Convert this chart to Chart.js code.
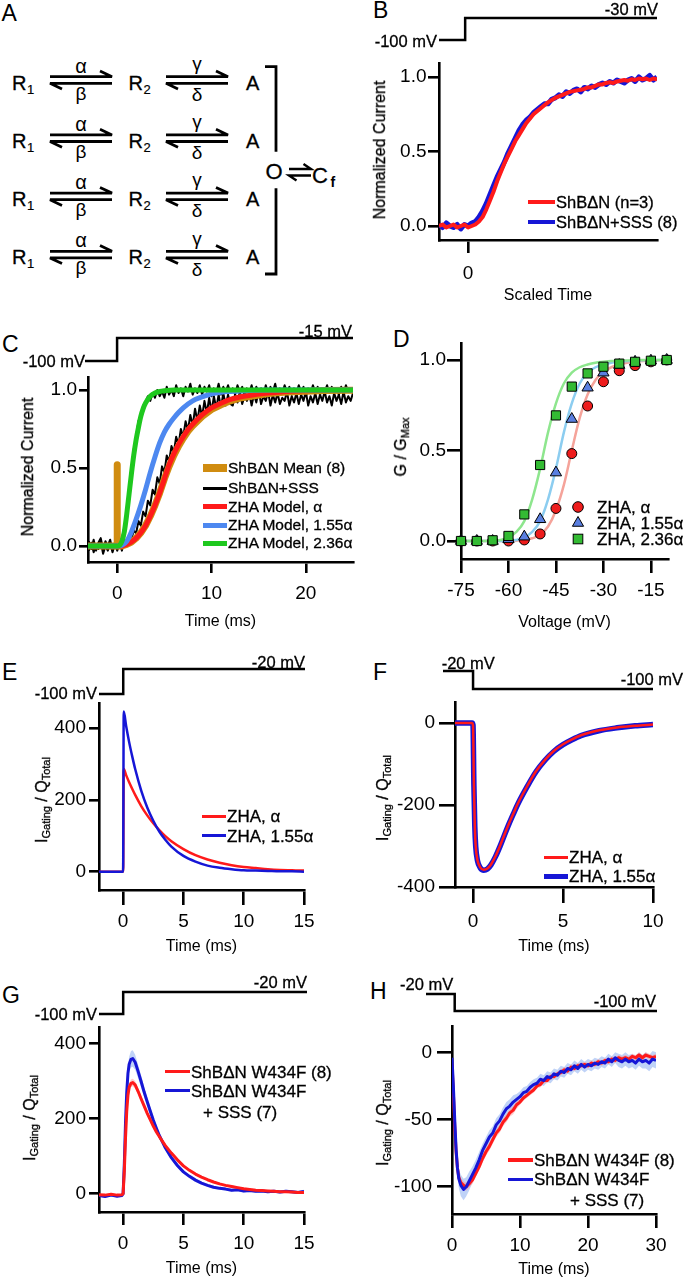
<!DOCTYPE html>
<html><head><meta charset="utf-8">
<script src="https://cdn.jsdelivr.net/npm/chart.js@4.4.0/dist/chart.umd.min.js"></script>
<style>
html,body{margin:0;padding:0;background:#fff;}
body{width:685px;height:1280px;position:relative;overflow:hidden;font-family:"Liberation Sans",Arial,Helvetica,sans-serif;color:#000;}
.t{position:absolute;white-space:nowrap;line-height:1;-webkit-text-stroke:0.3px #000;}
.yt{position:absolute;white-space:nowrap;line-height:1;font-size:16px;transform:translate(-50%,-50%) rotate(-90deg);-webkit-text-stroke:0.3px #000;}
.yt sub{font-size:11px;vertical-align:-3px;line-height:0;}
canvas{position:absolute;}
</style></head><body>
<script>
// ---------------- DATA ----------------
// Panel B
const bTime = [-1,-0.875,-0.75,-0.625,-0.5,-0.375,-0.25,-0.125,0,0.125,0.25,0.375,0.5,0.625,0.75,0.875,1,1.125,1.25,1.375,1.5,1.625,1.75,1.875,2,2.125,2.25,2.375,2.5,2.625,2.75,2.875,3,3.125,3.25,3.375,3.5,3.625,3.75,3.875,4,4.125,4.25,4.375,4.5,4.625,4.75,4.875,5,5.125,5.25,5.375,5.5,5.625,5.75,5.875,6,6.125,6.25,6.375,6.5];
const bRed = [0,0.01,-0.01,0,0.01,-0.01,0,0.01,-0.01,0,0.01,0.03,0.06,0.11,0.17,0.23,0.30,0.36,0.42,0.47,0.52,0.57,0.61,0.65,0.69,0.72,0.75,0.77,0.79,0.81,0.83,0.845,0.86,0.87,0.88,0.89,0.90,0.905,0.91,0.915,0.92,0.93,0.93,0.94,0.95,0.95,0.96,0.965,0.96,0.97,0.975,0.98,0.975,0.985,0.98,0.99,0.985,0.99,0.98,0.99,0.985];
const bBlue = [0.01,-0.01,0.02,0,-0.01,0.01,-0.02,0.01,0,0.02,0.03,0.06,0.10,0.15,0.21,0.27,0.33,0.38,0.43,0.49,0.54,0.59,0.64,0.68,0.71,0.73,0.76,0.78,0.80,0.82,0.82,0.85,0.86,0.88,0.87,0.90,0.89,0.91,0.92,0.90,0.93,0.92,0.94,0.93,0.95,0.96,0.95,0.97,0.96,0.98,0.97,0.96,0.98,0.99,0.97,1.00,0.98,0.99,1.01,0.98,1.00];
const bLabels = ['ShBΔN (n=3)','ShBΔN+SSS (8)'];
const bXTicks = [0], bXTickLabels = ['0'];
const bYTicks = [0,0.5,1], bYTickLabels = ['0.0','0.5','1.0'];
const bProtoT = [-1,-0.1,6.5], bProtoV = [-100,-30,-30];

// Panel C
const cTime = [-3,-2.75,-2.5,-2.25,-2,-1.75,-1.5,-1.25,-1,-0.75,-0.5,-0.25,0,0.25,0.5,0.75,1,1.25,1.5,1.75,2,2.25,2.5,2.75,3,3.25,3.5,3.75,4,4.25,4.5,4.75,5,5.25,5.5,5.75,6,6.25,6.5,6.75,7,7.25,7.5,7.75,8,8.25,8.5,8.75,9,9.25,9.5,9.75,10,10.25,10.5,10.75,11,11.25,11.5,11.75,12,12.25,12.5,12.75,13,13.25,13.5,13.75,14,14.25,14.5,14.75,15,15.25,15.5,15.75,16,16.25,16.5,16.75,17,17.25,17.5,17.75,18,18.25,18.5,18.75,19,19.25,19.5,19.75,20,20.25,20.5,20.75,21,21.25,21.5,21.75,22,22.25,22.5,22.75,23,23.25,23.5,23.75,24,24.25,24.5,24.75,25];
const cBlackFast = [0.03,-0.02,0.04,-0.03,0.02,0.05,-0.02,0.03,0.00,0.04,-0.03,0.02,-0.02,
 0.03,0.05,0.12,0.22,0.36,0.47,0.62,0.70,0.80,0.84,0.90,0.92,0.96,0.93,0.98,0.95,1.00,0.96,0.99,0.95,
 1.02,0.97,1.00,0.96,1.03,0.98,1.01,0.96,1.02,0.99,1.04,0.97,1.01,0.98,1.03,0.97,1.02,0.99,1.03,0.96,
 1.01,0.98,1.04,0.97,1.02,0.99,1.03,0.98,1.01,0.97,1.03,0.99,1.02,0.96,1.01,0.98,1.03,0.97,1.02,0.99,
 1.01,0.96,1.03,0.98,1.02,0.99,1.04,0.97,1.01,0.98,1.03,0.99,1.02,0.97,1.01,0.98,1.03,0.99,1.02,0.96,
 1.01,0.98,1.03,0.99,1.02,0.97,1.01,0.99,1.03,0.98,1.02,0.99,1.01,0.97,1.02,0.98,1.03,0.99,1.01,0.98];
const cBlackSlow = [-0.03,0.02,-0.04,0.01,-0.02,0.03,-0.05,0.00,-0.03,0.02,-0.04,0.01,-0.03,
 0.02,-0.03,0.04,0.01,0.06,0.04,0.10,0.08,0.16,0.13,0.22,0.19,0.29,0.26,0.36,0.33,0.44,0.40,0.51,0.47,0.58,0.54,0.64,0.60,0.70,0.65,0.75,0.70,0.80,0.74,0.84,0.77,0.88,0.80,0.90,0.83,0.93,0.85,0.95,0.86,0.96,0.88,0.97,0.89,0.98,0.90,0.97,0.91,
 0.90,0.97,0.92,0.99,0.91,0.96,0.93,0.98,0.90,0.97,0.92,1.00,0.91,0.96,0.93,0.99,0.90,0.97,0.92,0.98,0.91,0.95,0.93,0.99,0.90,0.96,0.92,0.98,0.91,0.97,0.93,0.99,0.90,0.96,0.92,0.98,0.91,0.97,0.93,0.99,0.92,0.96,0.90,0.98,0.93,0.97,0.91,0.99,0.92,0.96,0.93,0.98];
const cOrangeT = [-3.1,0,0,0,0.5,1,1.5,2,2.5,3,3.5,4,4.5,5,5.5,6,6.5,7,7.5,8,9,10,11,12,13,14,16,18,20,22,25];
const cOrange = [0,0,0.52,0,0,0.01,0.025,0.05,0.085,0.13,0.19,0.26,0.34,0.43,0.51,0.58,0.64,0.69,0.735,0.77,0.83,0.875,0.905,0.93,0.948,0.958,0.977,0.987,0.992,0.996,0.998];
const cRedT = [-3.1,0,0.5,1,1.5,2,2.5,3,3.5,4,4.5,5,5.5,6,6.5,7,7.5,8,9,10,11,12,13,14,16,18,20,22,25];
const cRed = [0,0,0,0.01,0.025,0.05,0.085,0.13,0.19,0.26,0.34,0.43,0.52,0.59,0.65,0.70,0.745,0.78,0.84,0.885,0.915,0.94,0.955,0.965,0.98,0.99,0.995,0.998,1];
const cBlueT = [-3.1,0,0.5,1,1.5,2,2.5,3,3.5,4,4.5,5,5.5,6,6.5,7,8,9,10,11,12,14,16,25];
const cBlue = [0,0,0.005,0.03,0.09,0.17,0.26,0.36,0.47,0.57,0.66,0.73,0.78,0.82,0.855,0.885,0.93,0.955,0.975,0.985,0.99,0.997,1,1];
const cGreenT = [-3.1,0,0.25,0.5,0.75,1,1.25,1.5,1.75,2,2.25,2.5,2.75,3,3.5,4,4.5,5,6,8,12,25];
const cGreen = [0,0,0.005,0.03,0.09,0.2,0.33,0.46,0.58,0.68,0.76,0.83,0.88,0.915,0.96,0.98,0.99,0.995,1,1,1,1];
const cLabels = ['ShBΔN Mean (8)','ShBΔN+SSS','ZHA Model, α','ZHA Model, 1.55α','ZHA Model, 2.36α'];
const cXTicks = [0,10,20], cXTickLabels = ['0','10','20'];
const cYTicks = [0,0.5,1], cYTickLabels = ['0.0','0.5','1.0'];
const cProtoT = [-3.4,0,25], cProtoV = [-100,-15,-15];

// Panel D
const dVolt = [-75,-70,-65,-60,-55,-50,-45,-40,-35,-30,-25,-20,-15,-10];
const dAlpha = [0,0,0,0,0.006,0.039,0.18,0.483,0.746,0.88,0.941,0.969,0.99,1.0];
const dA155 = [0,0,0,0.01,0.024,0.12,0.378,0.674,0.847,0.93,0.972,0.99,0.996,1.0];
const dA236 = [0,0,0.004,0.028,0.147,0.42,0.694,0.853,0.926,0.963,0.98,0.99,0.996,1.0];
const dFitV = [-75,-70,-65,-62.5,-60,-57.5,-55,-52.5,-50,-47.5,-45,-42.5,-40,-37.5,-35,-32.5,-30,-27.5,-25,-22.5,-20,-17.5,-15,-12.5,-10];
const dFitAlpha = [0,0,0,0,0,0.002,0.006,0.015,0.035,0.08,0.17,0.31,0.50,0.68,0.81,0.89,0.935,0.96,0.975,0.985,0.99,0.994,0.997,0.999,1];
const dFitA155 = [0,0,0,0,0.002,0.006,0.02,0.05,0.11,0.23,0.40,0.60,0.76,0.87,0.93,0.96,0.975,0.985,0.99,0.994,0.996,0.998,0.999,1,1];
const dFitA236 = [0,0,0.001,0.006,0.02,0.05,0.11,0.23,0.40,0.60,0.76,0.87,0.93,0.96,0.975,0.985,0.99,0.994,0.996,0.998,0.999,1,1,1,1];
const dLabels = ['ZHA, α','ZHA, 1.55α','ZHA, 2.36α'];
const dXTicks = [-75,-60,-45,-30,-15], dXTickLabels = ['-75','-60','-45','-30','-15'];
const dYTicks = [0,0.5,1], dYTickLabels = ['0.0','0.5','1.0'];

// Panel E
const eTime = [-2,0,0.05,0.25,0.5,0.75,1,1.5,2,2.5,3,3.5,4,5,6,7,8,9,10,11,12,13,14,15];
const eAlpha = [0,0,286,269,249,231,214,183,157,135,116,99,85,63,46,34,25,18,13,10,7,5,4,3];
const eA155 = [0,0,446,406,361,322,286,226,179,142,112,89,70,44,28,17,11,7,4,3,2,1,1,0];
const eLabels = ['ZHA, α','ZHA, 1.55α'];
const eXTicks = [0,5,10,15], eXTickLabels = ['0','5','10','15'];
const eYTicks = [0,200,400], eYTickLabels = ['0','200','400'];
const eProtoT = [-2,0,15], eProtoV = [-100,-20,-20];

// Panel F
const fTime = [-1,-0.05,0,0.05,0.1,0.15,0.25,0.4,0.6,0.8,1.0,1.25,1.5,1.75,2,2.25,2.5,3,3.5,4,4.5,5,5.5,6,7,8,9,10];
const fAlpha = [0,0,-5,-150,-250,-300,-335,-352,-358,-355,-345,-325,-300,-272,-245,-220,-196,-155,-118,-90,-68,-52,-40,-30,-18,-11,-7,-4];
const fA155 = [0,0,-5,-152,-252,-301,-336,-353,-359,-356,-346,-326,-301,-273,-246,-221,-197,-156,-119,-91,-69,-53,-41,-31,-19,-12,-7,-4];
const fLabels = ['ZHA, α','ZHA, 1.55α'];
const fXTicks = [0,5,10], fXTickLabels = ['0','5','10'];
const fYTicks = [-400,-200,0], fYTickLabels = ['-400','-200','0'];
const fProtoT = [-1.67,0,10], fProtoV = [-20,-100,-100];

// Panel G
const gTime = [-2,-1.5,-1,-0.5,-0.1,0,0.1,0.2,0.3,0.4,0.5,0.65,0.8,1,1.25,1.5,1.75,2,2.25,2.5,2.75,3,3.5,4,4.5,5,5.5,6,6.5,7,7.5,8,8.5,9,9.5,10,10.5,11,11.5,12,12.5,13,13.5,14,14.5,15];
const gWT = [-3,-4,-2,-4,-3,0,60,150,220,262,283,294,296,290,272,252,233,214,197,180,165,152,128,108,90,74,62,52,44,37,31,26,22,19,16,13,11,9,8,7,6,5,5,4,3,3];
const gSSS = [-5,-8,-4,-7,-5,0,80,190,270,320,345,358,360,350,325,298,270,245,220,196,175,155,122,96,75,58,46,36,28,22,17,14,12,9,10,7,8,6,7,5,6,4,6,5,3,6];
const gWTSem = [2,2,2,2,2,2,5,7,8,9,10,10,10,10,9,9,8,8,7,7,6,6,5,5,4,4,4,3,3,3,3,3,3,3,3,3,3,3,3,3,3,3,3,3,3,3];
const gSSSSem = [3,3,3,3,3,3,8,12,15,18,20,22,22,20,18,16,14,12,11,10,9,8,7,6,6,5,5,5,4,4,4,4,4,4,4,4,4,4,4,4,4,4,4,4,4,4];
const ghLabels = ['ShBΔN W434F (8)','ShBΔN W434F','+ SSS (7)'];
const gXTicks = [0,5,10,15], gXTickLabels = ['0','5','10','15'];
const gYTicks = [0,200,400], gYTickLabels = ['0','200','400'];
const gProtoT = [-2,0,15.2], gProtoV = [-100,-20,-20];

// Panel H
const hTime = [0,0.2,0.4,0.6,0.8,1.0,1.3,1.7,2.1,2.5,3.0,3.5,4,4.5,5,5.5,6,6.5,7,7.5,8,8.5,9,9.5,10,10.5,11,11.5,12,12.5,13,13.5,14,14.5,15,15.5,16,16.5,17,17.5,18,18.5,19,19.5,20,20.5,21,21.5,22,22.5,23,23.5,24,24.5,25,25.5,26,26.5,27,27.5,28,28.5,29,29.5,30];
const hWT = [-8,-30,-55,-74,-86,-93,-97,-99,-100,-98,-95,-90,-85,-79,-74,-70,-65,-60,-57,-52,-49,-45,-43,-39,-37,-34,-32,-30,-28,-25,-24,-21,-21,-18,-18,-16,-15,-13,-14,-11,-12,-10,-10,-9,-10,-8,-9,-7,-8,-6,-7,-5,-6,-4,-5,-4,-5,-3,-4,-2,-4,-2,-3,-4,-3];
const hSSS = [-4,-25,-50,-72,-86,-94,-99,-102,-100,-96,-91,-86,-80,-73,-68,-63,-60,-54,-51,-46,-42,-40,-37,-35,-33,-30,-29,-26,-24,-23,-20,-21,-18,-19,-16,-17,-14,-15,-12,-13,-10,-12,-9,-11,-9,-10,-8,-9,-7,-8,-5,-7,-4,-6,-7,-5,-7,-6,-8,-5,-7,-6,-8,-5,-6];
const hWTSem = [1,2,3,3,3,3,3,3,3,3,3,3,3,3,3,3,3,3,3,3,3,3,3,3,2,2,2,2,2,2,2,2,2,2,2,2,2,2,2,2,2,2,2,2,2,2,2,2,2,2,2,2,2,2,2,2,2,2,2,2,2,2,2,2,2];
const hSSSSem = [1,3,5,6,7,7,8,8,7,7,6,6,6,5,5,5,5,5,5,5,5,5,5,4,4,4,4,4,4,4,4,4,4,4,4,4,4,4,4,4,4,4,4,4,4,4,4,4,4,4,4,4,4,5,5,5,5,5,5,5,5,6,6,6,6];
const hXTicks = [0,10,20,30], hXTickLabels = ['0','10','20','30'];
const hYTicks = [-100,-50,0], hYTickLabels = ['-100','-50','0'];
const hProtoT = [-3.8,0.4,30], hProtoV = [-20,-100,-100];

// ---------------- STYLE / HELPERS ----------------
const FONT = '"Liberation Sans", Arial, Helvetica, sans-serif';
const RED = '#ff1a1a', BLUE = '#1616d6';
const TICK_SIZE = 19;
Chart.defaults.font.family = FONT;

function pts(xs, ys) { return xs.map((x, i) => ({x: x, y: ys[i]})); }
function addCanvas(l, t, w, h) {
  const c = document.createElement('canvas');
  c.width = Math.round(w); c.height = Math.round(h);
  c.style.left = Math.round(l) + 'px'; c.style.top = Math.round(t) + 'px';
  c.style.width = Math.round(w) + 'px'; c.style.height = Math.round(h) + 'px';
  document.body.appendChild(c);
  return c;
}
function txt(s, x, y, size, align) {
  const d = document.createElement('div');
  d.className = 't';
  d.innerHTML = s;
  d.style.left = x + 'px'; d.style.top = y + 'px'; d.style.fontSize = size + 'px';
  d.style.transform = align === 'right' ? 'translate(-100%,-50%)' : (align === 'center' ? 'translate(-50%,-50%)' : 'translateY(-50%)');
  document.body.appendChild(d);
  return d;
}
function ytitle(s, cx, cy) {
  const d = document.createElement('div');
  d.className = 'yt'; d.innerHTML = s;
  d.style.left = cx + 'px'; d.style.top = cy + 'px';
  document.body.appendChild(d);
}
function axis(dir, a, size) {
  return {
    type: 'linear', position: dir === 'x' ? 'bottom' : 'left', min: a.min, max: a.max,
    afterFit: s => { if (dir === 'x') s.height = size; else s.width = size; },
    afterBuildTicks: s => { s.ticks = a.ticks.map(v => ({value: v})); },
    ticks: {autoSkip: false, maxRotation: 0, minRotation: 0, padding: a.pad, color: '#000',
            font: {family: FONT, size: TICK_SIZE}, callback: (v, i) => a.labels[i]},
    grid: {display: true, drawOnChartArea: false, drawTicks: true, tickLength: a.tl, color: '#000', lineWidth: 2.6},
    border: {display: true, color: '#000', width: 2.6},
    title: a.title ? {display: true, text: a.title, color: '#000', font: {family: FONT, size: 16}, padding: 0} : {display: false}
  };
}
// datasets are listed bottom -> top; 'order' makes the last one drawn on top
function mainChart(cfg, datasets) {
  const A = cfg.area, yW = 60, padT = 25, padR = 28;
  datasets.forEach((d, i) => { d.order = datasets.length - i; });
  const c = addCanvas(A.l - yW, A.t - padT, yW + A.r - A.l + padR, padT + A.b - A.t + cfg.xH);
  return new Chart(c, {
    type: 'line',
    data: {datasets: datasets},
    options: {
      responsive: false, animation: false, devicePixelRatio: 1, events: [],
      layout: {padding: {left: 0, top: padT, right: padR, bottom: 0}},
      plugins: {legend: {display: false}, tooltip: {enabled: false}},
      elements: {point: {radius: 0}, line: {borderJoinStyle: 'round', borderCapStyle: 'butt'}},
      scales: {x: axis('x', cfg.x, cfg.xH), y: axis('y', cfg.y, yW)}
    }
  });
}
function protoChart(x0, x1, yHi, yLo, tArr, vArr, vHigh) {
  const p = 4;
  const c = addCanvas(x0 - p, yHi - p, x1 - x0 + 2 * p, yLo - yHi + 2 * p);
  return new Chart(c, {
    type: 'line',
    data: {datasets: [{data: pts(tArr, vArr), stepped: true, borderColor: '#000', borderWidth: 2.5, pointRadius: 0, clip: false, fill: false}]},
    options: {
      responsive: false, animation: false, devicePixelRatio: 1, events: [],
      layout: {padding: p},
      plugins: {legend: {display: false}, tooltip: {enabled: false}},
      scales: {x: {type: 'linear', display: false, min: tArr[0], max: tArr[tArr.length - 1]},
               y: {type: 'linear', display: false, min: -100, max: vHigh}}
    }
  });
}
function line(xs, ys, color, w, smooth, label) {
  return {label: label || '', data: pts(xs, ys), borderColor: color, borderWidth: w, pointRadius: 0, fill: false,
          tension: 0, cubicInterpolationMode: smooth ? 'monotone' : 'default'};
}
function band(xs, ys, sem, color) {
  return [
    {data: pts(xs, ys.map((v, i) => v + sem[i])), borderWidth: 0, pointRadius: 0, fill: false, tension: 0},
    {data: pts(xs, ys.map((v, i) => v - sem[i])), borderWidth: 0, pointRadius: 0, fill: '-1', backgroundColor: color, tension: 0}
  ];
}
function lineLegend(labels, colors, widths, rows, sx, ex, tx, size) {
  labels.forEach((lab, i) => {
    const s = document.createElement('div');
    s.style.cssText = 'position:absolute;left:' + sx + 'px;top:' + (rows[i] - widths[i] / 2) + 'px;width:' + (ex - sx) + 'px;height:' + widths[i] + 'px;background:' + colors[i];
    document.body.appendChild(s);
    txt(lab, tx, rows[i], size);
  });
}

// ---------------- PANEL A (scheme) ----------------
(function () {
  let s = '<svg xmlns="http://www.w3.org/2000/svg" width="345" height="300" style="position:absolute;left:0;top:0;font-family:Liberation Sans, Arial, sans-serif" stroke-linecap="butt">';
  for (let r = 0; r < 4; r++) {
    const yc = 80 + 58.2 * r;
    s += '<text x="12" y="' + (yc + 9.5) + '" font-size="20" stroke="#000" stroke-width="0.3">R</text>';
    s += '<text x="27" y="' + (yc + 13.5) + '" font-size="13" stroke="#000" stroke-width="0.2">1</text>';
    s += '<text x="81" y="' + (yc - 7.5) + '" font-size="20" text-anchor="middle">α</text>';
    s += '<text x="81" y="' + (yc + 19.5) + '" font-size="19" text-anchor="middle">β</text>';
    s += '<path d="M50,' + (yc - 3.3) + ' H112 L100,' + (yc - 9) + ' M112,' + (yc + 3.3) + ' H50 L62,' + (yc + 9) + '" stroke="#000" stroke-width="2.8" fill="none"/>';
    s += '<text x="128.5" y="' + (yc + 9.5) + '" font-size="20" stroke="#000" stroke-width="0.3">R</text>';
    s += '<text x="143.5" y="' + (yc + 13.5) + '" font-size="13" stroke="#000" stroke-width="0.2">2</text>';
    s += '<text x="197" y="' + (yc - 10) + '" font-size="19" text-anchor="middle">γ</text>';
    s += '<text x="197" y="' + (yc + 21) + '" font-size="19" text-anchor="middle">δ</text>';
    s += '<path d="M166,' + (yc - 3.3) + ' H228 L216,' + (yc - 9) + ' M228,' + (yc + 3.3) + ' H166 L178,' + (yc + 9) + '" stroke="#000" stroke-width="2.8" fill="none"/>';
    s += '<text x="246" y="' + (yc + 9.5) + '" font-size="20" stroke="#000" stroke-width="0.3">A</text>';
  }
  s += '<path d="M265,66.7 H276 V151.7 M276,188.3 V274 H265" stroke="#000" stroke-width="2.8" fill="none"/>';
  s += '<text x="265.5" y="178.5" font-size="22" stroke="#000" stroke-width="0.3">O</text>';
  s += '<path d="M289,169 H311 L303.5,164 M311,175.5 H289 L296.5,180.5" stroke="#000" stroke-width="2.4" fill="none"/>';
  s += '<text x="312" y="182.7" font-size="22" stroke="#000" stroke-width="0.3">C</text>';
  s += '<text x="330.5" y="186.5" font-size="14" font-weight="bold">f</text>';
  s += '</svg>';
  const d = document.createElement('div');
  d.innerHTML = s;
  document.body.appendChild(d);
})();

// Panel letters
[['A', 1.5, 13.3], ['B', 373, 10], ['C', 2, 343.5], ['D', 393, 339], ['E', 2, 671.5], ['F', 373, 671.5], ['G', 2, 995], ['H', 370, 990.5]]
  .forEach(p => { const d = txt(p[0], p[1], p[2], 23); d.style.webkitTextStroke = '0px'; });

// ---------------- PANEL B ----------------
protoChart(439, 657, 18.3, 40.7, bProtoT, bProtoV, -30);
txt('-100 mV', 437, 41, 16.5, 'right');
txt('-30 mV', 658, 8.5, 16.5, 'right');
mainChart({area: {l: 439, t: 63, r: 657, b: 240}, xH: 65,
  x: {min: -1, max: 6.5, ticks: bXTicks, labels: bXTickLabels, tl: 13, pad: 9, title: 'Scaled Time'},
  y: {min: -0.094, max: 1.094, ticks: bYTicks, labels: bYTickLabels, tl: 11, pad: 1.5}},
  [line(bTime, bBlue, BLUE, 5, false, bLabels[1]), line(bTime, bRed, RED, 4, false, bLabels[0])]);
ytitle('Normalized Current', 380, 150);
lineLegend(bLabels, [RED, BLUE], [4, 4], [202, 222], 528, 555, 556, 16.5);

// ---------------- PANEL C ----------------
const C_OR = '#d08c10', C_BL = '#4d88f0', C_GR = '#1ec81e';
protoChart(85, 353, 337.7, 361, cProtoT, cProtoV, -15);
txt('-100 mV', 85, 361, 16.5, 'right');
txt('-15 mV', 352, 331, 16.5, 'right');
mainChart({area: {l: 88, t: 377, r: 353, b: 562}, xH: 69,
  x: {min: -3.1, max: 25, ticks: cXTicks, labels: cXTickLabels, tl: 11, pad: 9.5, title: 'Time (ms)'},
  y: {min: -0.103, max: 1.083, ticks: cYTicks, labels: cYTickLabels, tl: 9, pad: 2}},
  [line(cTime, cBlackSlow, '#000', 2, false),
   line(cTime, cBlackFast, '#000', 2, false, cLabels[1]),
   line(cOrangeT, cOrange, C_OR, 7, false, cLabels[0]),
   line(cRedT, cRed, RED, 5, true, cLabels[2]),
   line(cBlueT, cBlue, C_BL, 5, true, cLabels[3]),
   line(cGreenT, cGreen, C_GR, 5, true, cLabels[4])]);
ytitle('Normalized Current', 28, 467);
lineLegend(cLabels, [C_OR, '#000', RED, C_BL, C_GR], [8, 2.5, 5, 5, 5], [468.3, 488.3, 506.7, 525, 543.3], 203, 227, 228, 15.5);

// ---------------- PANEL D ----------------
const D_R = '#ee1c1c', D_B = '#5a7fe0', D_G = '#33bb33';
function markers(ys, style, r, color, label) {
  return {label: label, data: pts(dVolt, ys), showLine: false, pointStyle: style, pointRadius: r,
          pointBackgroundColor: color, pointBorderColor: '#000', pointBorderWidth: 1, clip: false};
}
mainChart({area: {l: 461, t: 343, r: 668, b: 559}, xH: 73,
  x: {min: -75, max: -9.6, ticks: dXTicks, labels: dXTickLabels, tl: 14, pad: 6, title: 'Voltage (mV)'},
  y: {min: -0.0994, max: 1.094, ticks: dYTicks, labels: dYTickLabels, tl: 14, pad: 1}},
  [line(dFitV, dFitAlpha, '#f5a39a', 2.5, true),
   line(dFitV, dFitA155, '#8ccdf0', 2.5, true),
   line(dFitV, dFitA236, '#8ee68e', 2.5, true),
   markers(dAlpha, 'circle', 5, D_R, dLabels[0]),
   markers(dA155, 'triangle', 6.5, D_B, dLabels[1]),
   markers(dA236, 'rect', 6.5, D_G, dLabels[2])]);
ytitle('G / G<sub>Max</sub>', 401, 447);
(function () {
  const rows = [507, 523, 539];
  let s = '<svg xmlns="http://www.w3.org/2000/svg" width="30" height="60" style="position:absolute;left:563px;top:495px">';
  s += '<circle cx="15" cy="' + (rows[0] - 495) + '" r="5.3" fill="' + D_R + '" stroke="#000" stroke-width="1"/>';
  const ty = rows[1] - 495;
  s += '<polygon points="15,' + (ty - 6.5) + ' ' + (15 + 5.6) + ',' + (ty + 3.25) + ' ' + (15 - 5.6) + ',' + (ty + 3.25) + '" fill="' + D_B + '" stroke="#000" stroke-width="1"/>';
  s += '<rect x="' + (15 - 4.8) + '" y="' + (rows[2] - 495 - 4.8) + '" width="9.6" height="9.6" fill="' + D_G + '" stroke="#000" stroke-width="1"/>';
  s += '</svg>';
  const d = document.createElement('div'); d.innerHTML = s; document.body.appendChild(d);
  dLabels.forEach((l, i) => txt(l, 597, rows[i], 17));
})();

// ---------------- PANEL E ----------------
protoChart(99, 305, 669.3, 694, eProtoT, eProtoV, -20);
txt('-100 mV', 97, 693.3, 16.5, 'right');
txt('-20 mV', 305, 661.7, 16.5, 'right');
mainChart({area: {l: 99, t: 703, r: 304, b: 890}, xH: 66,
  x: {min: -2, max: 15, ticks: eXTicks, labels: eXTickLabels, tl: 15, pad: 5.5, title: 'Time (ms)'},
  y: {min: -51, max: 470, ticks: eYTicks, labels: eYTickLabels, tl: 10, pad: 3}},
  [line(eTime, eAlpha, RED, 2.5, true, eLabels[0]), line(eTime, eA155, BLUE, 2.5, true, eLabels[1])]);
ytitle('I<sub>Gating</sub> / Q<sub>Total</sub>', 42, 800);
lineLegend(eLabels, [RED, BLUE], [3, 3], [816, 835.5], 202, 226, 227, 17);

// ---------------- PANEL F ----------------
protoChart(442.7, 652.7, 671, 689, fProtoT, fProtoV, -20);
txt('-20 mV', 441.7, 662.5, 16.5, 'left');
txt('-100 mV', 683, 678.7, 16.5, 'right');
mainChart({area: {l: 455, t: 702, r: 653, b: 887}, xH: 69,
  x: {min: -1, max: 10, ticks: fXTicks, labels: fXTickLabels, tl: 16, pad: 7.5, title: 'Time (ms)'},
  y: {min: -400, max: 51, ticks: fYTicks, labels: fYTickLabels, tl: 16, pad: 4}},
  [line(fTime, fA155, BLUE, 5.5, true, fLabels[1]), line(fTime, fAlpha, RED, 2.5, true, fLabels[0])]);
ytitle('I<sub>Gating</sub> / Q<sub>Total</sub>', 383, 798);
lineLegend(fLabels, [RED, BLUE], [3, 5], [857, 876], 544, 568, 569, 17);

// ---------------- PANEL G ----------------
protoChart(99, 306.7, 991.7, 1014, gProtoT, gProtoV, -20);
txt('-100 mV', 97, 1013.8, 16.5, 'right');
txt('-20 mV', 307, 982, 16.5, 'right');
mainChart({area: {l: 99, t: 1027, r: 304, b: 1212}, xH: 66,
  x: {min: -2, max: 15, ticks: gXTicks, labels: gXTickLabels, tl: 13, pad: 7, title: 'Time (ms)'},
  y: {min: -49, max: 444, ticks: gYTicks, labels: gYTickLabels, tl: 10, pad: 3}},
  [].concat(band(gTime, gSSS, gSSSSem, 'rgba(140,175,240,0.55)'),
            band(gTime, gWT, gWTSem, 'rgba(255,140,140,0.45)'),
            [line(gTime, gSSS, BLUE, 3, false, ghLabels[1]), line(gTime, gWT, RED, 3, false, ghLabels[0])]));
ytitle('I<sub>Gating</sub> / Q<sub>Total</sub>', 30, 1118);
lineLegend(ghLabels.slice(0, 2), [RED, BLUE], [3.5, 3.5], [1071.7, 1090.7], 165, 190, 191, 17);
txt(ghLabels[2], 203, 1111.7, 17);

// ---------------- PANEL H ----------------
protoChart(426, 656.7, 994, 1010.7, hProtoT, hProtoV, -20);
txt('-20 mV', 400, 984, 16.5, 'left');
txt('-100 mV', 656, 1000.5, 16.5, 'right');
mainChart({area: {l: 452, t: 1026, r: 656, b: 1214}, xH: 65,
  x: {min: 0, max: 30, ticks: hXTicks, labels: hXTickLabels, tl: 14, pad: 6, title: 'Time (ms)'},
  y: {min: -120.3, max: 19.6, ticks: hYTicks, labels: hYTickLabels, tl: 15, pad: 5}},
  [].concat(band(hTime, hSSS, hSSSSem, 'rgba(140,175,240,0.55)'),
            band(hTime, hWT, hWTSem, 'rgba(255,140,140,0.45)'),
            [line(hTime, hWT, RED, 3, false, ghLabels[0]), line(hTime, hSSS, BLUE, 3, false, ghLabels[1])]));
ytitle('I<sub>Gating</sub> / Q<sub>Total</sub>', 383, 1123);
lineLegend(ghLabels.slice(0, 2), [RED, BLUE], [3.5, 3.5], [1160, 1179.3], 508, 533, 534, 17);
txt(ghLabels[2], 570, 1200, 17);
</script>
</body></html>
